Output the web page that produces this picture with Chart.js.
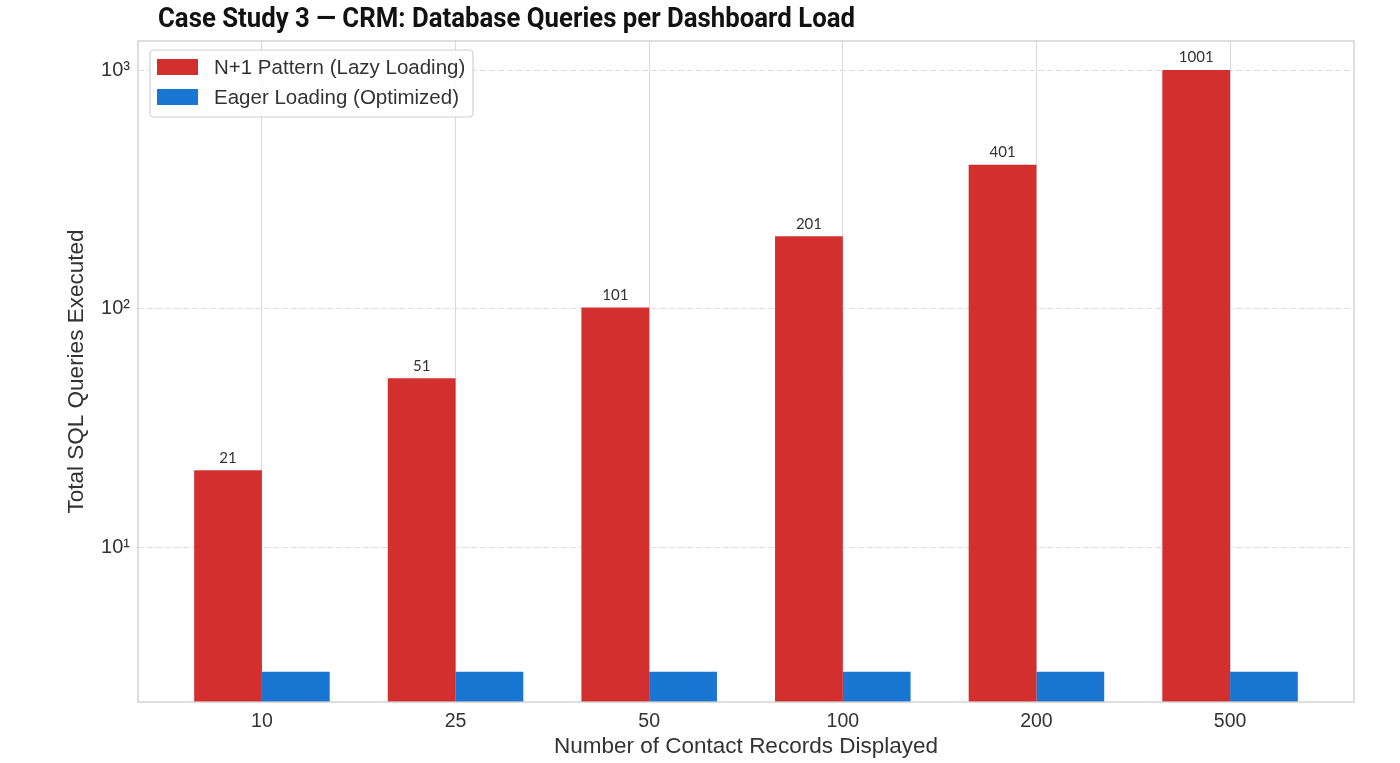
<!DOCTYPE html>
<html>
<head>
<meta charset="utf-8">
<script src="https://cdn.jsdelivr.net/npm/chart.js@4.4.1/dist/chart.umd.min.js"></script>
<style>
    html, body { margin: 0; padding: 0; background: #fff; }
    #wrap { width: 1400px; height: 763px; }
</style>
</head>
<body>
<div id="wrap"><canvas id="queriesChart" width="1400" height="763"></canvas></div>
<script>
// Chart data
const categories = ['10', '25', '50', '100', '200', '500'];
const lazyQueries = [21, 51, 101, 201, 401, 1001];
const eagerQueries = [3, 3, 3, 3, 3, 3];
const seriesLabels = ['N+1 Pattern (Lazy Loading)', 'Eager Loading (Optimized)'];
const yTickValues = [10, 100, 1000];
const yTickLabels = ['10¹', '10²', '10³'];

const chartTitle = 'Case Study 3 \u2014 CRM: Database Queries per Dashboard Load';
const RED = '#d32f2f';
const BLUE = '#1976d2';
const TEXT = '#333333';

// Title, frame, value labels and the legend box drawn on the canvas
const decorPlugin = {
    id: 'decor',
    afterDraw(chart) {
        const ctx = chart.ctx;
        const area = chart.chartArea;

        // plot frame
        ctx.save();
        ctx.strokeStyle = '#cccccc';
        ctx.lineWidth = 1.3;
        ctx.strokeRect(area.left, area.top, area.right - area.left, area.bottom - area.top);
        ctx.restore();

        // value labels above the red bars
        ctx.save();
        ctx.font = '15px Lato';
        ctx.fillStyle = TEXT;
        ctx.textAlign = 'center';
        ctx.textBaseline = 'bottom';
        chart.getDatasetMeta(0).data.forEach((bar, i) => {
            ctx.fillText(String(lazyQueries[i]), bar.x, bar.y - 5);
        });
        ctx.restore();

        // title, condensed bold
        ctx.save();
        ctx.font = 'bold 28px Roboto';
        ctx.fillStyle = '#111111';
        ctx.textBaseline = 'alphabetic';
        const w = ctx.measureText(chartTitle).width;
        const target = 697;
        ctx.translate(158, 27);
        ctx.scale(target / w, 1);
        ctx.fillText(chartTitle, 0, 0);
        ctx.restore();

        // legend box
        ctx.save();
        const lx = 150, ly = 50, lw = 323, lh = 67;
        ctx.beginPath();
        ctx.roundRect(lx, ly, lw, lh, 4);
        ctx.fillStyle = 'rgba(255,255,255,0.85)';
        ctx.fill();
        ctx.strokeStyle = '#cfcfcf';
        ctx.lineWidth = 1.2;
        ctx.stroke();
        ctx.font = '20.5px "Liberation Sans"';
        ctx.textBaseline = 'middle';
        chart.data.datasets.forEach((ds, i) => {
            const cy = 67 + i * 30;
            ctx.fillStyle = ds.backgroundColor;
            ctx.fillRect(157, cy - 8, 41, 16);
            ctx.fillStyle = TEXT;
            ctx.fillText(ds.label, 214, cy + 1);
        });
        ctx.restore();
    }
};

const ctx = document.getElementById('queriesChart').getContext('2d');
const queriesChart = new Chart(ctx, {
    type: 'bar',
    data: {
        datasets: [
            {
                label: seriesLabels[0],
                data: lazyQueries.map((v, i) => ({ x: i, y: v })),
                backgroundColor: RED,
                categoryPercentage: 0.7,
                barPercentage: 1.0
            },
            {
                label: seriesLabels[1],
                data: eagerQueries.map((v, i) => ({ x: i, y: v })),
                backgroundColor: BLUE,
                categoryPercentage: 0.7,
                barPercentage: 1.0
            }
        ]
    },
    options: {
        responsive: false,
        animation: false,
        devicePixelRatio: 1,
        layout: {
            padding: { left: 0, right: 46, top: 41, bottom: 0 }
        },
        plugins: {
            legend: { display: false },
            title: { display: false },
            tooltip: { enabled: false }
        },
        scales: {
            x: {
                type: 'linear',
                min: -0.64,
                max: 5.64,
                offset: false,
                grid: { color: '#d9d9d9', lineWidth: 1, drawTicks: false, offset: false },
                border: { display: false },
                ticks: {
                    stepSize: 1,
                    includeBounds: false,
                    padding: 8,
                    color: TEXT,
                    font: { family: 'Liberation Sans', size: 19.5 },
                    callback: (value) => categories[value] ?? ''
                },
                title: {
                    display: true,
                    text: 'Number of Contact Records Displayed',
                    color: TEXT,
                    font: { family: 'Liberation Sans', size: 22.5 },
                    padding: { top: 0, bottom: 3 }
                },
                afterFit: (scale) => { scale.height = 61; }
            },
            y: {
                type: 'logarithmic',
                min: 2.24,
                max: 1324,
                grid: { color: '#dedede', lineWidth: 1, drawTicks: false },
                border: { display: false, dash: [6, 3] },
                afterBuildTicks: (scale) => {
                    scale.ticks = yTickValues.map(v => ({ value: v }));
                },
                ticks: {
                    padding: 8,
                    color: TEXT,
                    font: { family: 'Liberation Sans', size: 20 },
                    callback: (value) => {
                        const idx = yTickValues.indexOf(value);
                        return idx >= 0 ? yTickLabels[idx] : '';
                    }
                },
                title: {
                    display: true,
                    text: 'Total SQL Queries Executed',
                    color: TEXT,
                    font: { family: 'Liberation Sans', size: 22.5 },
                    padding: { top: 63, bottom: 0 }
                },
                afterFit: (scale) => { scale.width = 138; }
            }
        }
    },
    plugins: [decorPlugin]
});
</script>
</body>
</html>
